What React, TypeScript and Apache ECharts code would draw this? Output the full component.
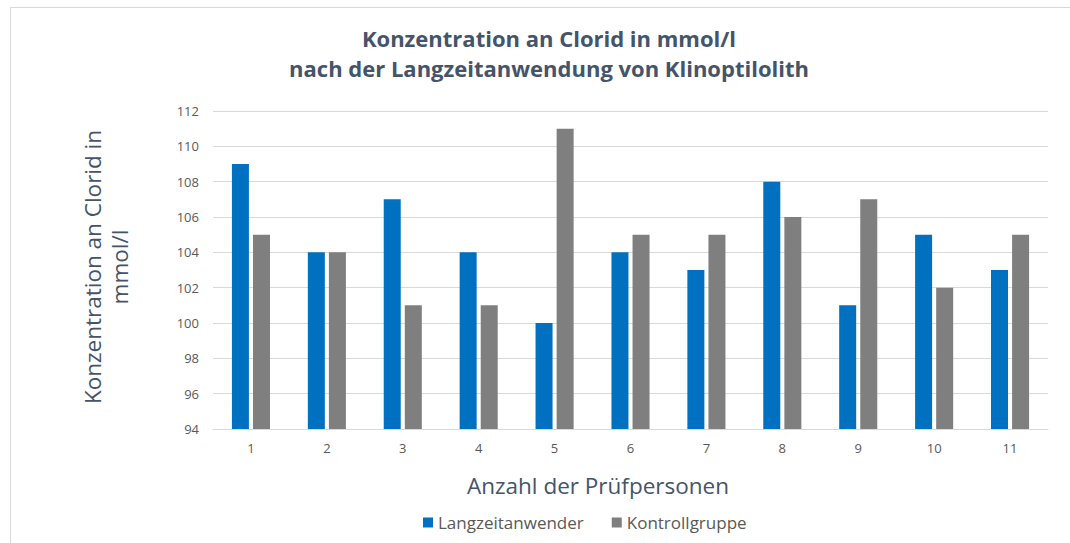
import React, { useEffect, useRef } from "react";
import * as echarts from "echarts";

const categories = ["1", "2", "3", "4", "5", "6", "7", "8", "9", "10", "11"];
const langzeit = [109, 104, 107, 104, 100, 104, 103, 108, 101, 105, 103];
const kontroll = [105, 104, 101, 101, 111, 105, 105, 106, 107, 102, 105];
const titleText = "Konzentration an Clorid in mmol/l\nnach der Langzeitanwendung von Klinoptilolith";
const yName = "Konzentration an Clorid in\nmmol/l";
const xName = "Anzahl der Prüfpersonen";

const FONT = "'Open Sans', 'Noto Sans', sans-serif";

export default function App() {
  const ref = useRef<HTMLDivElement>(null);
  useEffect(() => {
    if (!ref.current) return;
    const chart = echarts.init(ref.current, null, { renderer: "svg" });
    chart.setOption({
      animation: false,
      backgroundColor: "#ffffff",
      textStyle: { fontFamily: FONT },
      title: {
        text: titleText,
        left: 544,
        top: 18,
        textAlign: "center",
        textStyle: {
          fontFamily: FONT,
          fontSize: 22,
          fontWeight: "bold",
          color: "#44546A",
          lineHeight: 30,
        },
      },
      graphic: [
        {
          type: "rect",
          shape: { x: 10.5, y: 7.5, width: 1100, height: 600 },
          style: { fill: "none", stroke: "#D9D9D9", lineWidth: 1 },
          silent: true,
          z: -1,
        },
        {
          type: "text",
          x: 106,
          y: 267,
          rotation: Math.PI / 2,
          style: {
            text: yName,
            fontFamily: FONT,
            fontSize: 22.5,
            fill: "#44546A",
            align: "center",
            verticalAlign: "middle",
            lineHeight: 27,
          },
        },
        {
          type: "text",
          x: 598,
          y: 485,
          style: {
            text: xName,
            fontFamily: FONT,
            fontSize: 22.5,
            fill: "#44546A",
            align: "center",
            verticalAlign: "middle",
          },
        },
      ],
      legend: {
        top: 509,
        left: 418,
        itemWidth: 10,
        itemHeight: 10,
        itemGap: 28,
        icon: "rect",
        textStyle: { fontFamily: FONT, fontSize: 17, color: "#595959" },
        data: ["Langzeitanwender", "Kontrollgruppe"],
      },
      grid: { left: 213, right: 22, top: 111, bottom: 114 },
      xAxis: {
        type: "category",
        data: categories,
        axisLine: { lineStyle: { color: "#D9D9D9", width: 1 } },
        axisTick: { show: false },
        axisLabel: { color: "#595959", fontSize: 13, margin: 12 },
      },
      yAxis: {
        type: "value",
        min: 94,
        max: 112,
        interval: 2,
        axisLine: { show: false },
        axisTick: { show: false },
        axisLabel: { color: "#595959", fontSize: 13, margin: 14 },
        splitLine: { lineStyle: { color: "#D9D9D9", width: 1 } },
      },
      series: [
        {
          name: "Langzeitanwender",
          type: "bar",
          data: langzeit,
          itemStyle: { color: "#0070C0" },
          barWidth: 17,
          barGap: "24%",
        },
        {
          name: "Kontrollgruppe",
          type: "bar",
          data: kontroll,
          itemStyle: { color: "#7F7F7F" },
          barWidth: 17,
          barGap: "24%",
        },
      ],
    });
    return () => chart.dispose();
  }, []);
  return (
    <div
      ref={ref}
      style={{ position: "absolute", left: 0, top: 0, width: 1070, height: 543 }}
    />
  );
}
